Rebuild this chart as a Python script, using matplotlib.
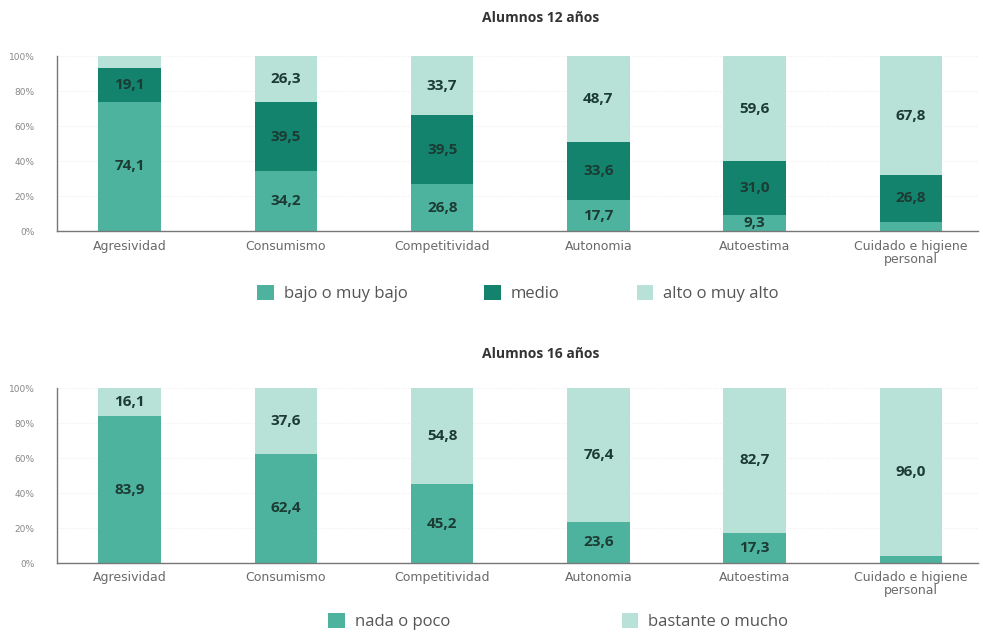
import matplotlib.pyplot as plt
import numpy as np

categorias = ["Agresividad", "Consumismo", "Competitividad", "Autonomia",
              "Autoestima", "Cuidado e higiene\npersonal"]

# Alumnos 12 años
bajo_12 = [74.1, 34.2, 26.8, 17.7, 9.3, 5.4]
medio_12 = [19.1, 39.5, 39.5, 33.6, 31.0, 26.8]
alto_12 = [6.8, 26.3, 33.7, 48.7, 59.6, 67.8]

# Alumnos 16 años
nada_16 = [83.9, 62.4, 45.2, 23.6, 17.3, 4.0]
bastante_16 = [16.1, 37.6, 54.8, 76.4, 82.7, 96.0]

yticks = [0, 20, 40, 60, 80, 100]
ytick_labels = ["0%", "20%", "40%", "60%", "80%", "100%"]

c_bajo = "#4db39f"
c_medio = "#13836e"
c_alto = "#b8e2d8"
c_text = "#1c3b33"
c_gray = "#6a6a6a"

fig = plt.figure(figsize=(9.83, 6.32), dpi=100)
ax1 = fig.add_axes([0.058, 0.634, 0.937, 0.277])
ax2 = fig.add_axes([0.058, 0.109, 0.937, 0.277])

x = np.arange(len(categorias))
w = 0.40


def style_axes(ax):
    ax.set_xlim(-0.465, 5.43)
    ax.set_ylim(0, 100)
    ax.set_yticks(yticks)
    ax.set_yticklabels(ytick_labels, fontsize=6.5, color="#888888")
    ax.set_xticks(x)
    ax.set_xticklabels(categorias, fontsize=9, color=c_gray,
                       family="DejaVu Sans", linespacing=1.0)
    ax.tick_params(axis="both", length=0, pad=6)
    ax.tick_params(axis="y", pad=16)
    for s in ["top", "right"]:
        ax.spines[s].set_visible(False)
    for s in ["left", "bottom"]:
        ax.spines[s].set_color("#777777")
        ax.spines[s].set_linewidth(1.0)
    ax.set_axisbelow(True)
    ax.yaxis.grid(True, color="#eeeeee", linewidth=0.8, linestyle=":")


def labels(ax, bottoms, vals, minimo):
    for xi, b, v in zip(x, bottoms, vals):
        if v >= minimo:
            ax.text(xi, b + v / 2, f"{v:.1f}".replace(".", ","),
                    ha="center", va="center", fontsize=11, fontweight="bold",
                    color=c_text, family="Open Sans")


# 12 años
b1 = ax1.bar(x, bajo_12, w, color=c_bajo, label="bajo o muy bajo")
b2 = ax1.bar(x, medio_12, w, bottom=bajo_12, color=c_medio, label="medio")
base3 = np.array(bajo_12) + np.array(medio_12)
b3 = ax1.bar(x, alto_12, w, bottom=base3, color=c_alto, label="alto o muy alto")
labels(ax1, [0] * 6, bajo_12, 9)
labels(ax1, bajo_12, medio_12, 9)
labels(ax1, base3, alto_12, 9)
style_axes(ax1)
fig.text(0.55, 0.972, "Alumnos 12 años", ha="center", va="center",
         fontsize=10, fontweight="bold", color="#333333", family="Open Sans")
fig.legend(handles=[b1, b2, b3], loc="center", bbox_to_anchor=(0.527, 0.536),
           ncol=3, frameon=False, handlelength=1.0,
           handleheight=1.0, columnspacing=4.6, handletextpad=0.6,
           labelcolor="#555555", prop={"family": "Open Sans", "size": 12})

# 16 años
d1 = ax2.bar(x, nada_16, w, color=c_bajo, label="nada o poco")
d2 = ax2.bar(x, bastante_16, w, bottom=nada_16, color=c_alto,
             label="bastante o mucho")
labels(ax2, [0] * 6, nada_16, 9)
labels(ax2, nada_16, bastante_16, 9)
style_axes(ax2)
fig.text(0.55, 0.44, "Alumnos 16 años", ha="center", va="center",
         fontsize=10, fontweight="bold", color="#333333", family="Open Sans")
fig.legend(handles=[d1, d2], loc="center", bbox_to_anchor=(0.568, 0.016),
           ncol=2, frameon=False, handlelength=1.0, handleheight=1.0,
           columnspacing=10.3, handletextpad=0.6, labelcolor="#555555",
           prop={"family": "Open Sans", "size": 12})

fig.savefig("out.png", dpi=100)
